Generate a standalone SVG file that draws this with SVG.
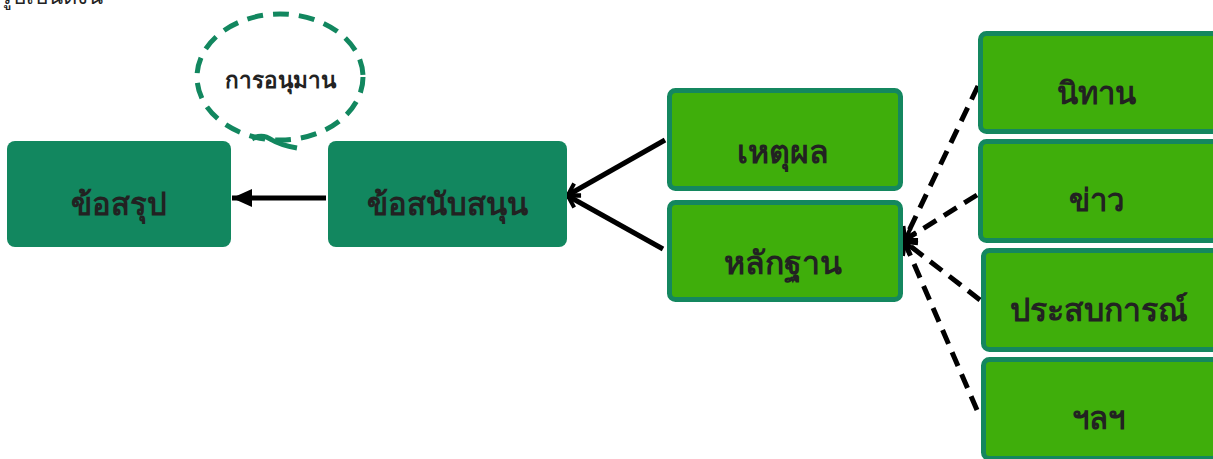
<svg xmlns="http://www.w3.org/2000/svg" width="1213" height="459" viewBox="0 0 1213 459">
<style>
.t{font-family:"Noto Sans","DejaVu Sans",sans-serif;font-weight:bold;fill:#222;text-anchor:middle;dominant-baseline:central}
.dk{fill:#12875f}
.lg{fill:#3fae0b;stroke:#14875f;stroke-width:5}
.sl{stroke:#000;stroke-width:5;fill:none}
.dl{stroke:#000;stroke-width:5;fill:none;stroke-dasharray:15 9}
</style>
<defs>
<marker id="fa" markerUnits="userSpaceOnUse" markerWidth="24" markerHeight="24" viewBox="0 0 24 24" refX="22" refY="12" orient="auto">
<path d="M2 3 L22 12 L2 21 Z" fill="#000"/>
</marker>
<marker id="oa" markerUnits="userSpaceOnUse" markerWidth="20" markerHeight="20" viewBox="0 0 20 20" refX="17" refY="10" orient="auto">
<path d="M6 3 L17 10 L6 17" fill="none" stroke="#000" stroke-width="4"/>
</marker>
</defs>
<text x="0" y="4" style="font-family:'Noto Sans','DejaVu Sans',sans-serif;font-size:22px;fill:#222">รูปเป็นดังนี้</text>
<g id="connectors">
<line x1="326" y1="198" x2="232" y2="198" class="sl" marker-end="url(#fa)"/>
<line x1="665" y1="140" x2="568" y2="195" class="sl" marker-end="url(#oa)"/>
<line x1="663" y1="249" x2="568" y2="196" class="sl" marker-end="url(#oa)"/>
<line x1="978" y1="86" x2="905" y2="239" class="dl" marker-end="url(#oa)"/>
<line x1="977" y1="195" x2="905" y2="240" class="dl" marker-end="url(#oa)"/>
<line x1="980" y1="300" x2="905" y2="242" class="dl" marker-end="url(#oa)"/>
<line x1="977" y1="410" x2="905" y2="243" class="dl" marker-end="url(#oa)"/>
</g>
<g id="inference">
<ellipse cx="280" cy="77" rx="83" ry="63" fill="none" stroke="#12875f" stroke-width="5" stroke-dasharray="16 10"/>
<path d="M252 139 Q262 133 272 140 Q280 145 297 148" fill="none" stroke="#12875f" stroke-width="5"/>
<text x="280" y="79" class="t" style="font-size:22.5px">การอนุมาน</text>
</g>
<g id="conclusion">
<rect x="7" y="141" width="224" height="106" rx="8" class="dk"/>
<text x="119" y="203" class="t" style="font-size:31px">ข้อสรุป</text>
</g>
<g id="support">
<rect x="328" y="141" width="239" height="106" rx="8" class="dk"/>
<text x="447" y="203" class="t" style="font-size:31px">ข้อสนับสนุน</text>
</g>
<g id="reason">
<rect x="669.5" y="90.5" width="231" height="98" rx="6" class="lg"/>
<text x="783" y="150" class="t" style="font-size:32px">เหตุผล</text>
</g>
<g id="evidence">
<rect x="669.5" y="202.5" width="231" height="97" rx="6" class="lg"/>
<text x="783" y="261" class="t" style="font-size:32px">หลักฐาน</text>
</g>
<g id="tale">
<rect x="980.5" y="33.5" width="240" height="98" rx="6" class="lg"/>
<text x="1096" y="92" class="t" style="font-size:31px">นิทาน</text>
</g>
<g id="news">
<rect x="980.5" y="141.5" width="240" height="99" rx="6" class="lg"/>
<text x="1096" y="199" class="t" style="font-size:31px">ข่าว</text>
</g>
<g id="experience">
<rect x="983.5" y="250.5" width="240" height="99" rx="6" class="lg"/>
<text x="1099" y="308" class="t" style="font-size:32px">ประสบการณ์</text>
</g>
<g id="etc">
<rect x="983.5" y="359.5" width="240" height="99" rx="6" class="lg"/>
<text x="1098" y="417" class="t" style="font-size:31px">ฯลฯ</text>
</g>
</svg>
